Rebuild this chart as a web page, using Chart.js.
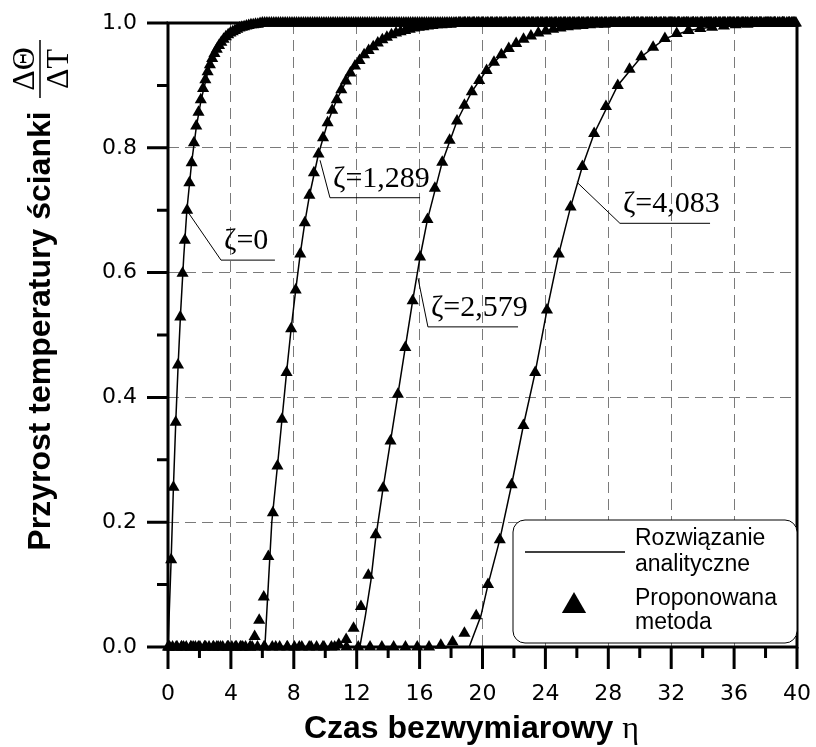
<!DOCTYPE html>
<html>
<head>
<meta charset="utf-8">
<script src="https://cdn.jsdelivr.net/npm/chart.js@4.4.0/dist/chart.umd.min.js"></script>
<style>
  body { margin: 0; background: #fff; }
  #wrap { width: 816px; height: 747px; }
</style>
</head>
<body>
<div id="wrap"><canvas id="chart" width="816" height="747"></canvas></div>
<script>
// osie
const etaMin = 0, etaMax = 40, etaStep = 4;
const valMin = 0, valMax = 1, valStep = 0.2;

const zetaLabels = ['ζ=0', 'ζ=1,289', 'ζ=2,579', 'ζ=4,083'];

// rozwiązanie analityczne (linia)
const lineEta0 = [0, 0.2, 0.35, 0.5, 0.65, 0.8, 1.0, 1.2, 1.5, 1.8, 2.1, 2.5, 3.0, 3.5, 4.0, 5.0, 6.0, 40];
const lineVal0 = [0, 0.14, 0.26, 0.365, 0.455, 0.535, 0.625, 0.70, 0.776, 0.833, 0.876, 0.918, 0.953, 0.973, 0.985, 0.995, 0.999, 1];

const lineEta1 = [0, 6.16, 6.38, 6.6, 6.96, 7.25, 7.54, 7.83, 8.12, 8.41, 8.7, 9.0, 9.57, 10.15, 10.73, 11.6, 12.47, 13.63, 15, 16.5, 18, 20, 40];
const lineVal1 = [0, 0, 0.1, 0.2, 0.29, 0.365, 0.44, 0.51, 0.572, 0.63, 0.68, 0.724, 0.79, 0.84, 0.877, 0.92, 0.949, 0.973, 0.988, 0.995, 0.998, 0.9995, 1];

const lineEta2 = [0, 12.2, 12.55, 12.9, 13.21, 13.68, 14.15, 14.62, 15.09, 15.56, 16.03, 16.5, 17.44, 18.38, 19.32, 20.26, 21.2, 22.14, 23.55, 25, 27, 29, 40];
const lineVal2 = [0, 0, 0.05, 0.106, 0.175, 0.255, 0.33, 0.405, 0.48, 0.555, 0.625, 0.685, 0.777, 0.843, 0.89, 0.924, 0.949, 0.967, 0.984, 0.993, 0.998, 0.9995, 1];

const lineEta3 = [0, 19.15, 19.9, 20.35, 21.1, 21.85, 22.6, 23.35, 24.1, 24.85, 25.6, 26.35, 27.1, 28.6, 30.1, 31.6, 33.1, 35, 37, 40];
const lineVal3 = [0, 0, 0.05, 0.10, 0.172, 0.26, 0.355, 0.44, 0.54, 0.63, 0.705, 0.77, 0.823, 0.9, 0.946, 0.975, 0.988, 0.995, 0.999, 1];

// proponowana metoda: punkty co stały krok czasowy (start + i * krok)
const markStart = [0.2, 0.0, 0.05, 0.1];
const markStep = [0.145, 0.29, 0.47, 0.75];

const markVal0 = [
  0.14, 0.256, 0.36, 0.452, 0.529, 0.599, 0.652, 0.700, 0.744, 0.776,
  0.808, 0.835, 0.857, 0.877, 0.895, 0.909, 0.922, 0.933, 0.943, 0.951,
  0.958, 0.964, 0.969, 0.974, 0.978, 0.981, 0.984, 0.986, 0.988, 0.990,
  0.992, 0.993, 0.994, 0.995, 0.996, 0.997, 0.997, 0.998, 0.998, 0.999,
  1,1,1,1,1,1,1,1,1,1,1,1,1,1,1,1,1,1,1,1,
  1,1,1,1,1,1,1,1,1,1,1,1,1,1,1,1,1,1,1,1,
  1,1,1,1,1,1,1,1,1,1,1,1,1,1,1,1,1,1,1,1,
  1,1,1,1,1,1,1,1,1,1,1,1,1,1,1,1,1,1,1,1,
  1,1,1,1,1,1,1,1,1,1,1,1,1,1,1,1,1,1,1,1,
  1,1,1,1,1,1,1,1,1,1,1,1,1,1,1,1,1,1,1,1,
  1,1,1,1,1,1,1,1,1,1,1,1,1,1,1,1,1,1,1,1,
  1,1,1,1,1,1,1,1,1,1,1,1,1,1,1,1,1,1,1,1,
  1,1,1,1,1,1,1,1,1,1,1,1,1,1,1,1,1,1,1,1,
  1,1,1,1,1,1,1,1,1,1,1,1,1,1,1,1,1,1,1,1,
  1,1,1,1,1,1,1,1,1,1,1,1,1,1,1,1,1,1,1,1,
  1,1,1,1,1,1,1,1,1,1,1,1,1,1,1
];

const markVal1 = [
  0,0,0,0,0,0,0,0,0,0,0,0,0,0,0,0,0,0,0,
  0.017, 0.043, 0.08, 0.145, 0.215, 0.29, 0.365, 0.44, 0.51, 0.572,
  0.63, 0.68, 0.724, 0.76, 0.79, 0.816, 0.84, 0.86, 0.877, 0.893,
  0.907, 0.92, 0.931, 0.94, 0.949, 0.956, 0.962, 0.968, 0.973, 0.977,
  0.981, 0.984, 0.986, 0.988, 0.99, 0.992, 0.993, 0.994, 0.995, 0.996,
  0.997, 0.997, 0.998, 0.998, 0.999,
  1,1,1,1,1,1,1,1,1,1,1,1,1,1,1,1,1,1,1,1,
  1,1,1,1,1,1,1,1,1,1,1,1,1,1,1,1,1,1,1,1,
  1,1,1,1,1,1,1,1,1,1,1,1,1,1,1,1,1,1,1,1,
  1,1,1,1,1,1,1,1,1,1,1,1,1,1
];

const markVal2 = [
  0,0,0,0,0,0,0,0,0,0,0,0,0,0,0,0,0,0,0,0,0,0,0,
  0.004, 0.012, 0.03, 0.065, 0.115, 0.18, 0.255, 0.33, 0.405, 0.48,
  0.555, 0.625, 0.685, 0.735, 0.777, 0.812, 0.843, 0.868, 0.89, 0.908,
  0.924, 0.937, 0.949, 0.959, 0.967, 0.974, 0.979, 0.984, 0.987, 0.99,
  0.992, 0.994, 0.995, 0.996, 0.997, 0.998, 0.998, 0.999,
  1,1,1,1,1,1,1,1,1,1,1,1,1,1,1,1,1,1,1,1,
  1,1,1,1
];

const markVal3 = [
  0,0,0,0,0,0,0,0,0,0,0,0,0,0,0,0,0,0,0,0,0,0,0,
  0.003, 0.008, 0.022, 0.05, 0.10, 0.172, 0.26, 0.355, 0.44, 0.54,
  0.63, 0.705, 0.77, 0.823, 0.866, 0.9, 0.926, 0.946, 0.961, 0.975,
  0.983, 0.988, 0.991, 0.993, 0.995, 0.997, 0.998, 0.999, 1, 1, 1
];

// opisy krzywych: punkt na krzywej, załamanie odnośnika, koniec podkreślenia (w jednostkach osi)
const zetaNotes = [
  { at: [1.27, 0.697], elbow: [3.37, 0.62], end: 6.8 },
  { at: [9.67, 0.78], elbow: [10.3, 0.72], end: 16.03 },
  { at: [15.9, 0.591], elbow: [16.53, 0.513], end: 22.26 },
  { at: [26.0, 0.745], elbow: [28.74, 0.679], end: 34.47 }
];

const xTitle = 'Czas bezwymiarowy ';
const xTitleSym = 'η';
const yTitle = 'Przyrost temperatury ścianki';
const yFracTop = 'ΔΘ';
const yFracBottom = 'ΔT';

const lineEta = [lineEta0, lineEta1, lineEta2, lineEta3];
const lineVal = [lineVal0, lineVal1, lineVal2, lineVal3];
const markVal = [markVal0, markVal1, markVal2, markVal3];

function markPoints(k) {
  return markVal[k]
    .map((v, i) => ({ x: +(markStart[k] + i * markStep[k]).toFixed(3), y: v }))
    .filter(p => p.x <= etaMax);
}

const datasets = [];
for (let k = 0; k < 4; k++) {
  datasets.push({
    label: 'Proponowana metoda',
    data: markPoints(k),
    showLine: false,
    pointStyle: 'triangle',
    pointRadius: 7,
    pointBackgroundColor: '#000',
    pointBorderWidth: 0,
    clip: false,
    order: 0
  });
}
for (let k = 0; k < 4; k++) {
  datasets.push({
    label: 'Rozwiązanie analityczne',
    data: lineEta[k].map((x, i) => ({ x, y: lineVal[k][i] })),
    showLine: true,
    borderColor: '#000',
    borderWidth: 1.5,
    pointRadius: 0,
    tension: 0,
    order: 1
  });
}

const decorations = {
  id: 'decorations',
  afterDraw(chart) {
    const { ctx, chartArea: a, scales: { x, y } } = chart;
    ctx.save();

    // ramka
    ctx.strokeStyle = '#000';
    ctx.lineWidth = 3;
    ctx.strokeRect(a.left, a.top, a.right - a.left, a.bottom - a.top);

    // znaczniki główne i pomocnicze
    ctx.beginPath();
    const xt = x.ticks.map(t => t.value);
    xt.forEach((v, i) => {
      const px = x.getPixelForValue(v);
      ctx.moveTo(px, a.bottom); ctx.lineTo(px, a.bottom + 22);
      if (i < xt.length - 1) {
        const pm = x.getPixelForValue((v + xt[i + 1]) / 2);
        ctx.moveTo(pm, a.bottom); ctx.lineTo(pm, a.bottom + 11);
      }
    });
    const yt = y.ticks.map(t => t.value);
    yt.forEach((v, i) => {
      const py = y.getPixelForValue(v);
      ctx.moveTo(a.left, py); ctx.lineTo(a.left - 21, py);
      if (i < yt.length - 1) {
        const pm = y.getPixelForValue((v + yt[i + 1]) / 2);
        ctx.moveTo(a.left, pm); ctx.lineTo(a.left - 11, pm);
      }
    });
    ctx.stroke();

    // opisy ζ
    ctx.lineWidth = 1;
    ctx.fillStyle = '#000';
    ctx.font = '30px "Liberation Serif"';
    ctx.textAlign = 'left';
    ctx.textBaseline = 'alphabetic';
    zetaNotes.forEach((n, k) => {
      const p0x = x.getPixelForValue(n.at[0]), p0y = y.getPixelForValue(n.at[1]);
      const ex = x.getPixelForValue(n.elbow[0]), ey = y.getPixelForValue(n.elbow[1]);
      const endx = x.getPixelForValue(n.end);
      ctx.beginPath();
      ctx.moveTo(p0x, p0y); ctx.lineTo(ex, ey); ctx.lineTo(endx, ey);
      ctx.stroke();
      ctx.fillText(zetaLabels[k], ex + 3, ey - 11);
    });

    // legenda
    const lb = { left: a.right - 284, top: a.bottom - 127, right: a.right, bottom: a.bottom - 4 };
    ctx.beginPath();
    ctx.roundRect(lb.left, lb.top, lb.right - lb.left, lb.bottom - lb.top, 12);
    ctx.fillStyle = '#fff';
    ctx.fill();
    ctx.strokeStyle = '#000';
    ctx.lineWidth = 1;
    ctx.stroke();
    const lineDs = chart.data.datasets.find(d => d.showLine);
    const markDs = chart.data.datasets.find(d => !d.showLine);
    ctx.lineWidth = 1.5;
    ctx.beginPath();
    ctx.moveTo(lb.left + 12, lb.top + 32); ctx.lineTo(lb.left + 112, lb.top + 32);
    ctx.stroke();
    ctx.fillStyle = '#000';
    Chart.helpers.drawPoint(ctx, { pointStyle: 'triangle', radius: 14, borderWidth: 0, rotation: 0 }, lb.left + 61, lb.top + 86);
    ctx.font = '23px "Liberation Sans"';
    ctx.fillStyle = '#000';
    const l1 = lineDs.label.split(' '), l2 = markDs.label.split(' ');
    ctx.fillText(l1[0], lb.left + 122, lb.top + 25);
    ctx.fillText(l1[1], lb.left + 122, lb.top + 51);
    ctx.fillText(l2[0], lb.left + 122, lb.top + 85);
    ctx.fillText(l2[1], lb.left + 122, lb.top + 109);

    // tytuł osi x
    ctx.font = 'bold 32px "Liberation Sans"';
    const w1 = ctx.measureText(xTitle).width;
    ctx.font = '32px "Liberation Serif"';
    const w2 = ctx.measureText(xTitleSym).width;
    const sx = (a.left + a.right) / 2 - 11 - (w1 + w2) / 2;
    ctx.font = 'bold 32px "Liberation Sans"';
    ctx.fillText(xTitle, sx, 738);
    ctx.font = '32px "Liberation Serif"';
    ctx.fillText(xTitleSym, sx + w1, 738);

    // tytuł osi y
    ctx.save();
    ctx.translate(50, (a.top + a.bottom) / 2 - 4);
    ctx.rotate(-Math.PI / 2);
    ctx.textAlign = 'center';
    ctx.font = 'bold 32px "Liberation Sans"';
    ctx.fillText(yTitle, 0, 0);
    ctx.restore();

    ctx.save();
    ctx.translate(40, 69);
    ctx.rotate(-Math.PI / 2);
    ctx.textAlign = 'center';
    ctx.font = '32px "Liberation Serif"';
    ctx.fillText(yFracTop, 0, -6);
    ctx.fillText(yFracBottom, 0, 28);
    ctx.lineWidth = 1.5;
    ctx.beginPath();
    ctx.moveTo(-29, 0); ctx.lineTo(29, 0);
    ctx.stroke();
    ctx.restore();

    ctx.restore();
  }
};

const gridStyle = { color: '#7a7a7a', lineWidth: 1, drawTicks: false };
const tickFont = { family: 'DejaVu Sans', size: 22 };

function noPad(s) {
  s.paddingTop = 0; s.paddingBottom = 0; s.paddingLeft = 0; s.paddingRight = 0;
}

new Chart(document.getElementById('chart'), {
  type: 'scatter',
  data: { datasets },
  options: {
    responsive: false,
    animation: false,
    layout: { padding: { top: 23, right: 19, left: 0, bottom: 0 } },
    plugins: { legend: { display: false }, tooltip: { enabled: false } },
    scales: {
      x: {
        type: 'linear', min: etaMin, max: etaMax,
        ticks: { stepSize: etaStep, padding: 34, font: tickFont, color: '#000', maxRotation: 0, autoSkip: false },
        grid: gridStyle,
        border: { display: false, dash: [11, 6] },
        afterFit: s => { s.height = 100; noPad(s); }
      },
      y: {
        type: 'linear', min: valMin, max: valMax,
        ticks: { stepSize: valStep, padding: 31, font: tickFont, color: '#000', callback: v => v.toFixed(1) },
        grid: gridStyle,
        border: { display: false, dash: [11, 6] },
        afterFit: s => { s.width = 168; noPad(s); }
      }
    }
  },
  plugins: [decorations]
});
</script>
</body>
</html>
